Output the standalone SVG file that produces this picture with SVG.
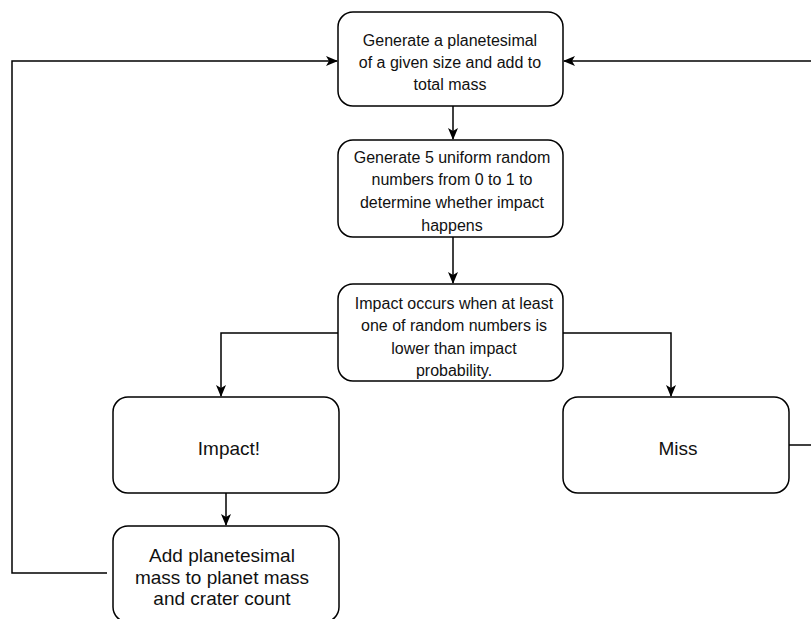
<svg xmlns="http://www.w3.org/2000/svg" width="811" height="619" viewBox="0 0 811 619">
<defs>
<style>
.node rect{fill:#fff;stroke:#000;stroke-width:1.5}
.t{font-family:"Liberation Sans",Arial,sans-serif;font-size:16px;fill:#111;text-anchor:middle}
.t2{font-family:"Liberation Sans",Arial,sans-serif;font-size:19px;fill:#111;text-anchor:middle}
.edge{fill:none;stroke:#000;stroke-width:1.5}
</style>
<marker id="arr" viewBox="0 0 12 10" refX="11" refY="5" markerWidth="12" markerHeight="10" markerUnits="userSpaceOnUse" orient="auto">
<path d="M0,0 L12,5 L0,10 L3,5 z" fill="#000"/>
</marker>
</defs>
<rect width="811" height="619" fill="#fff"/>
<g id="connectors">
<path class="edge" d="M453,106 V139" marker-end="url(#arr)"/>
<path class="edge" d="M453,237 V283" marker-end="url(#arr)"/>
<path class="edge" d="M338,333 H221 V396" marker-end="url(#arr)"/>
<path class="edge" d="M563,333 H671 V396" marker-end="url(#arr)"/>
<path class="edge" d="M226,493 V525" marker-end="url(#arr)"/>
<path class="edge" d="M107,573 H12 V61 H337" marker-end="url(#arr)"/>
<path class="edge" d="M789,445 H811"/>
<path class="edge" d="M811,61 H564" marker-end="url(#arr)"/>
</g>
<g id="n1" class="node">
<rect x="338" y="12" width="225" height="94" rx="15"/>
<text class="t" x="450" y="46">Generate a planetesimal</text>
<text class="t" x="450" y="68">of a given size and add to</text>
<text class="t" x="450" y="90">total mass</text>
</g>
<g id="n2" class="node">
<rect x="338" y="140" width="225" height="97" rx="15"/>
<text class="t" x="452" y="163">Generate 5 uniform random</text>
<text class="t" x="452" y="185">numbers from 0 to 1 to</text>
<text class="t" x="452" y="208">determine whether impact</text>
<text class="t" x="452" y="231">happens</text>
</g>
<g id="n3" class="node">
<rect x="338" y="284" width="225" height="97" rx="15"/>
<text class="t" x="454" y="309">Impact occurs when at least</text>
<text class="t" x="454" y="331">one of random numbers is</text>
<text class="t" x="454" y="354">lower than impact</text>
<text class="t" x="454" y="376">probability.</text>
</g>
<g id="n4" class="node">
<rect x="113" y="397" width="226" height="96" rx="15"/>
<text class="t2" x="229" y="455">Impact!</text>
</g>
<g id="n5" class="node">
<rect x="563" y="397" width="226" height="96" rx="15"/>
<text class="t2" x="678" y="455">Miss</text>
</g>
<g id="n6" class="node">
<rect x="113" y="526" width="226" height="96" rx="15"/>
<text class="t2" x="222" y="562">Add planetesimal</text>
<text class="t2" x="222" y="584">mass to planet mass</text>
<text class="t2" x="222" y="605">and crater count</text>
</g>
</svg>
